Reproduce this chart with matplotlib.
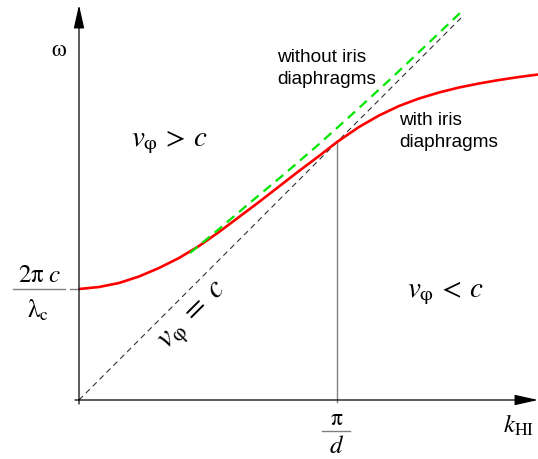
import matplotlib
matplotlib.use("Agg")
import matplotlib.pyplot as plt

plt.rcParams['mathtext.fontset'] = 'stix'
plt.rcParams['lines.scale_dashes'] = False

# dispersion curves, k and omega in arbitrary units (c = 1)
k_pi_d = 2.58
omega_c = 1.11
k_light_max = 3.84

k_iris = [0.0, 0.2, 0.4, 0.6, 0.8, 1.0, 1.2, 1.4, 1.6, 1.8, 2.0, 2.2, 2.4,
          2.58, 2.8, 3.0, 3.2, 3.4, 3.6, 3.8, 4.0, 4.2, 4.4, 4.59]
w_iris = [1.11, 1.13, 1.17, 1.235, 1.32, 1.42, 1.54, 1.68, 1.83, 1.98, 2.135,
          2.29, 2.44, 2.58, 2.73, 2.845, 2.94, 3.015, 3.075, 3.125, 3.165,
          3.20, 3.23, 3.255]

k_free = [1.11, 1.40, 1.73, 2.06, 2.39, 2.74, 3.11, 3.48, 3.81]
w_free = [1.47, 1.71, 1.99, 2.265, 2.55, 2.865, 3.205, 3.555, 3.87]

fig = plt.figure(figsize=(5.38, 4.59), dpi=100)
ax = fig.add_axes([0, 0, 1, 1])
ax.set_xlim(-0.79, 4.59)
ax.set_ylim(-0.59, 4.00)
ax.axis('off')

# axes with arrow heads
head = dict(arrowstyle='-|>,head_length=0.8,head_width=0.18', mutation_scale=18,
            color='black', lw=0.9, shrinkA=0, shrinkB=0)
ax.annotate('', xy=(0, 3.95), xytext=(0, -0.04), arrowprops=head)
ax.annotate('', xy=(4.59, 0), xytext=(-0.04, 0), arrowprops=head)

# light line omega = c k
ax.plot([0, k_light_max], [0, k_light_max], color='#333333', lw=0.8,
        dashes=(4, 3))

# pi/d marker
ax.plot([k_pi_d, k_pi_d], [-0.02, k_pi_d], color='#808080', lw=1)
ax.plot([-0.09, 0], [omega_c, omega_c], color='#808080', lw=1)

ax.plot(k_iris, w_iris, color='red', lw=1.9, solid_capstyle='butt',
        solid_joinstyle='round')
ax.plot(k_free, w_free, color='#00e600', lw=1.6, dashes=(7, 4.5))

ax.text(-0.20, 3.51, r'$\mathrm{ω}$', fontsize=17, ha='center', va='center')

# cutoff frequency label
ax.text(-0.40, 1.25, r'$\mathrm{2π}\;c$', fontsize=18, ha='center', va='center')
ax.plot([-0.66, -0.14], [omega_c, omega_c], color='#808080', lw=1)
ax.text(-0.41, 0.90, r'$\mathrm{λ}_{\mathrm{c}}$', fontsize=18, ha='center', va='center')

# pi/d label
ax.text(k_pi_d, -0.18, r'$\mathrm{π}$', fontsize=17, ha='center', va='center')
ax.plot([k_pi_d - 0.15, k_pi_d + 0.13], [-0.31, -0.31], color='#808080', lw=1)
ax.text(k_pi_d, -0.46, r'$d$', fontsize=18, ha='center', va='center')

ax.text(4.40, -0.25, r'$k_{\mathrm{HI}}$', fontsize=18, ha='center', va='center')

ax.text(0.90, 2.58, r'$v_{\mathrm{φ}}\,{>}\,c$', fontsize=21, ha='center', va='center')
ax.text(3.66, 1.07, r'$v_{\mathrm{φ}}\,{<}\,c$', fontsize=21, ha='center', va='center')
ax.text(1.16, 0.82, r'$v_{\mathrm{φ}}\;=\;c$', fontsize=22, ha='center', va='center',
        rotation=45, rotation_mode='anchor')

ax.text(1.98, 3.51, 'without iris\ndiaphragms', fontsize=13.7, family='Liberation Sans',
        ha='left', va='top', linespacing=1.4)
ax.text(3.20, 2.88, 'with iris\ndiaphragms', fontsize=13.7, family='Liberation Sans',
        ha='left', va='top', linespacing=1.4)

fig.savefig('out.png', dpi=100)
